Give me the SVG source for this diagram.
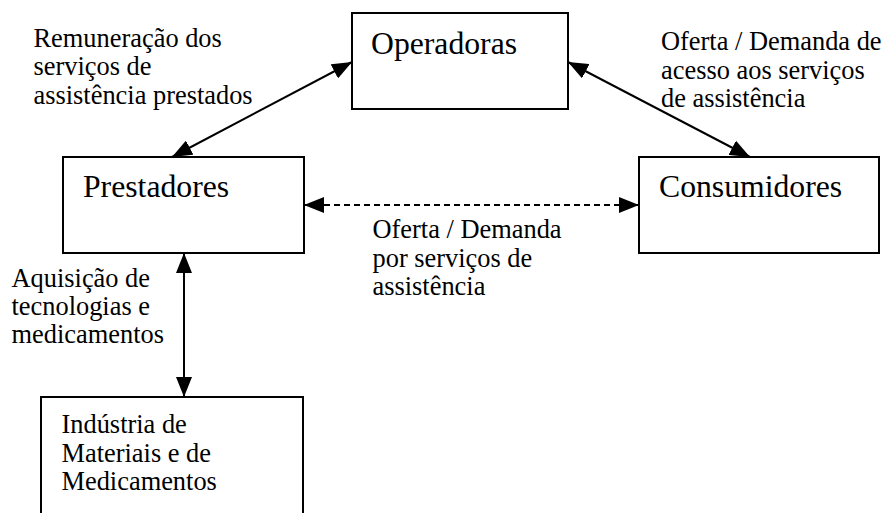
<svg xmlns="http://www.w3.org/2000/svg" width="884" height="513" viewBox="0 0 884 513">
<style>
.box{fill:#fff;stroke:#000;stroke-width:2}
.t{font-family:"Liberation Serif","Times New Roman",serif;fill:#000}
.big{font-size:31.7px}
.sm{font-size:26.4px}
.c{stroke:#000;stroke-width:2;fill:none;marker-start:url(#ah);marker-end:url(#ah)}
.d{stroke-dasharray:6 4}
</style>
<defs>
<marker id="ah" markerUnits="userSpaceOnUse" markerWidth="20" markerHeight="16" refX="20" refY="8" orient="auto-start-reverse" viewBox="0 0 20 16">
<path d="M0,0 L20,8 L0,16 Z" fill="#000"/>
</marker>
</defs>
<rect width="884" height="513" fill="#fff"/>
<g id="operadoras">
<rect class="box" x="352" y="13" width="216" height="96"/>
<text class="t big" x="371" y="53.5">Operadoras</text>
</g>
<g id="prestadores">
<rect class="box" x="63" y="157" width="241" height="96"/>
<text class="t big" x="83" y="196.7">Prestadores</text>
</g>
<g id="consumidores">
<rect class="box" x="639" y="157" width="240" height="96"/>
<text class="t big" x="659" y="196.7">Consumidores</text>
</g>
<g id="industria">
<rect class="box" x="41" y="397" width="262" height="140"/>
<text class="t sm" x="61.5" y="433.3">Indústria de</text>
<text class="t sm" x="61.5" y="461.7">Materiais e de</text>
<text class="t sm" x="61.5" y="490">Medicamentos</text>
</g>
<g id="connectors">
<line class="c" x1="172" y1="157" x2="352" y2="62"/>
<line class="c" x1="568" y1="62" x2="750" y2="157"/>
<line class="c d" x1="304" y1="205" x2="639" y2="205"/>
<line class="c" x1="184" y1="253" x2="184" y2="397"/>
</g>
<g id="labels">
<text class="t sm" x="33.5" y="47">Remuneração dos</text>
<text class="t sm" x="33.5" y="75.3">serviços de</text>
<text class="t sm" x="33.5" y="103.6">assistência prestados</text>
<text class="t sm" x="661" y="50">Oferta / Demanda de</text>
<text class="t sm" x="661" y="78.5">acesso aos serviços</text>
<text class="t sm" x="661" y="107">de assistência</text>
<text class="t sm" x="372.5" y="238.3">Oferta / Demanda</text>
<text class="t sm" x="372.5" y="266.6">por serviços de</text>
<text class="t sm" x="372.5" y="294.9">assistência</text>
<text class="t sm" x="11.5" y="286.7">Aquisição de</text>
<text class="t sm" x="11.5" y="315">tecnologias e</text>
<text class="t sm" x="11.5" y="343.3">medicamentos</text>
</g>
</svg>
